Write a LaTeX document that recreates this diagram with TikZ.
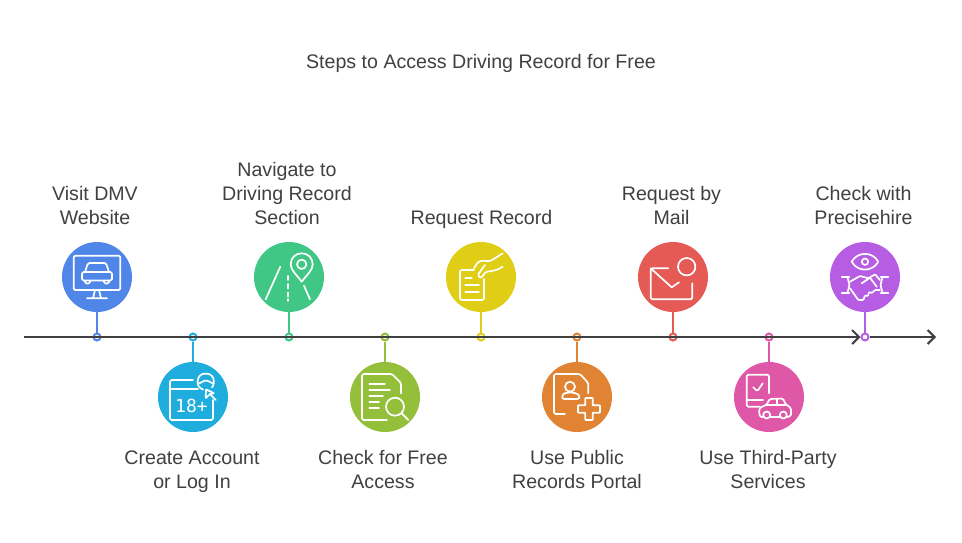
\documentclass[tikz,border=0pt]{standalone}
\usepackage{fontspec}
\setmainfont{Liberation Sans}
\newfontfamily\agefont{DejaVu Sans Mono}
\usetikzlibrary{arrows.meta}

\definecolor{inkgray}{RGB}{64, 64, 64}
\definecolor{stepblue}{RGB}{79, 134, 232}
\definecolor{stepcyan}{RGB}{31, 173, 221}
\definecolor{stepgreen}{RGB}{64, 199, 133}
\definecolor{steplime}{RGB}{147, 191, 58}
\definecolor{stepyellow}{RGB}{224, 205, 21}
\definecolor{steporange}{RGB}{224, 132, 51}
\definecolor{stepred}{RGB}{229, 90, 85}
\definecolor{steppink}{RGB}{223, 87, 167}
\definecolor{steppurple}{RGB}{183, 93, 227}

\begin{document}
\begin{tikzpicture}[x=1pt, y=-1pt, >={Straight Barb[length=7pt, width=14pt]},
        disc/.style={circle, fill=#1, inner sep=0pt, minimum size=70pt},
        ring/.style={circle, draw=#1, line width=2pt, inner sep=0pt, minimum size=7pt},
        stem/.style={draw=#1, line width=2.2pt},
        axis/.style={draw=inkgray, line width=2.1pt},
        label/.style={align=center, text=inkgray, text depth=0pt, font=\fontsize{19.6}{24}\selectfont},
        icon/.style={draw=white, line width=1.7pt, line cap=round, line join=round, rounded corners=1.5pt}]

    \useasboundingbox (0,0) rectangle (962,542);

    \node[label] (title) at (481,61) {Steps to Access Driving Record for Free};

    % --- kola z ikonami ---
    \node[disc=stepblue]   (visit)    at (97,277)  {};
    \node[disc=stepcyan]   (account)  at (193,397) {};
    \node[disc=stepgreen]  (navigate) at (289,277) {};
    \node[disc=steplime]   (free)     at (385,397) {};
    \node[disc=stepyellow] (request)  at (481,277) {};
    \node[disc=steporange] (portal)   at (577,397) {};
    \node[disc=stepred]    (mail)     at (673,277) {};
    \node[disc=steppink]   (third)    at (769,397) {};
    \node[disc=steppurple] (check)    at (865,277) {};

    % --- punkty na osi ---
    \node[ring=stepblue]   (dvisit)    at (97,337)  {};
    \node[ring=stepcyan]   (daccount)  at (193,337) {};
    \node[ring=stepgreen]  (dnavigate) at (289,337) {};
    \node[ring=steplime]   (dfree)     at (385,337) {};
    \node[ring=stepyellow] (drequest)  at (481,337) {};
    \node[ring=steporange] (dportal)   at (577,337) {};
    \node[ring=stepred]    (dmail)     at (673,337) {};
    \node[ring=steppink]   (dthird)    at (769,337) {};
    \node[ring=steppurple] (dcheck)    at (865,337) {};

    % --- os czasu ---
    \coordinate (axisstart) at (24,337);
    \coordinate (axisend)   at (936,337);
    \draw[axis, ->] (axisstart) -- (dcheck.west);
    \draw[axis, ->] (dcheck.east) -- (axisend);

    % --- trzonki ---
    \draw[stem=stepblue]   (visit)    -- (dvisit);
    \draw[stem=stepcyan]   (account)  -- (daccount);
    \draw[stem=stepgreen]  (navigate) -- (dnavigate);
    \draw[stem=steplime]   (free)     -- (dfree);
    \draw[stem=stepyellow] (request)  -- (drequest);
    \draw[stem=steporange] (portal)   -- (dportal);
    \draw[stem=stepred]    (mail)     -- (dmail);
    \draw[stem=steppink]   (third)    -- (dthird);
    \draw[stem=steppurple] (check)    -- (dcheck);

    % --- opisy ---
    \node[label] (tvisit)    at (95,205)    {Visit DMV\\Website};
    \node[label] (taccount)  at (192,470)   {Create Account\\or Log In};
    \node[label] (tnavigate) at (287,193)   {Navigate to\\Driving Record\\Section};
    \node[label] (tfree)     at (383,469)   {Check for Free\\Access};
    \node[label] (trequest)  at (481.5,217) {Request Record};
    \node[label] (tportal)   at (577,469)   {Use Public\\Records Portal};
    \node[label] (tmail)     at (671.5,205) {Request by\\Mail};
    \node[label] (tthird)    at (768,469)   {Use Third-Party\\Services};
    \node[label] (tcheck)    at (863.5,205) {Check with\\Precisehire};

    % --- monitor z autem ---
    \begin{scope}[shift={(visit)}]
        \draw[icon] (-23.3,-21.3) rectangle (23.3,13);
        \draw[icon] (-2,13) -- (-4,21.3) (2,13) -- (4,21.3) (-10,21.3) -- (10,21.3);
        \draw[icon] (-12,-5) -- (-9,-14) -- (9,-14) -- (12,-5);
        \draw[icon] (-15,-5) rectangle (15,3.5);
        \draw[icon] (-12,3.5) -- (-12,6.5) -- (-7,6.5) -- (-7,3.5) (12,3.5) -- (12,6.5) -- (7,6.5) -- (7,3.5);
    \end{scope}

    % --- kalendarz 18+ i kursor ---
    \begin{scope}[shift={(account)}]
        \draw[icon] (0,-17) -- (-23,-17) -- (-23,23) -- (20,23) -- (20,3);
        \draw[icon] (-23,-8) -- (5,-8);
        \node[text=white, font=\agefont\fontsize{18}{18}\selectfont, inner sep=0pt] (age) at (-1.5,9) {18+};
        \draw[icon] (10,-7.5) .. controls (6,-9) and (4.5,-12) .. (4.7,-15.3)
            .. controls (5,-20) and (8,-23.3) .. (12.7,-23.3)
            .. controls (17.5,-23.3) and (20.7,-20) .. (20.7,-15.3)
            .. controls (20.7,-13) and (20.2,-11) .. (19,-9.5);
        \draw[icon] (6,-13.5) -- (13,-17) -- (20,-13.5);
        \draw[icon, rounded corners=0.5pt] (13,-7.7) -- (21,-3.7) -- (17,-3) -- (12.7,1.3) -- cycle;
        \draw[icon] (17,-3) -- (22.7,3);
    \end{scope}

    % --- droga i pinezka ---
    \begin{scope}[shift={(navigate)}]
        \draw[icon] (-8.7,-10.3) -- (-23.3,22.3);
        \draw[icon] (15,8.7) -- (21,22.3);
        \draw[icon] (-1,-1) -- (-1,3) (-1,7) -- (-1,11.5) (-1,15.5) -- (-1,19.5) (-1,22) -- (-1,24);
        \draw[icon, rounded corners=0pt] (12.7,4.7) .. controls (8,-2) and (1.7,-6.5) .. (1.7,-12.7)
            .. controls (1.7,-19) and (6.5,-23.7) .. (12.7,-23.7)
            .. controls (19,-23.7) and (23.7,-19) .. (23.7,-12.7)
            .. controls (23.7,-6.5) and (17.5,-2) .. cycle;
        \draw[icon] (12.7,-12.7) circle[radius=4.7];
    \end{scope}

    % --- dokument z lupa ---
    \begin{scope}[shift={(free)}]
        \draw[icon] (2,23) -- (-23,23) -- (-23,-23) -- (7,-23) -- (16,-14) -- (16,-3.5);
        \draw[icon] (-15.7,-13) -- (0,-13) (-15.7,-7) -- (5,-7) (-15.7,-1.3) -- (-2,-1.3)
                    (-15.7,5) -- (-6,5) (-15.7,11) -- (-6,11);
        \draw[icon] (10,9.7) circle[radius=9];
        \draw[icon] (16.7,16.3) -- (23.3,23);
    \end{scope}

    % --- dokument w dloni ---
    \begin{scope}[shift={(request)}]
        \draw[icon] (-7,-7) -- (-21,-7) -- (-21,23) -- (3,23) -- (3,2);
        \draw[icon] (-15.7,0.7) -- (-9.3,0.7) (-15.7,7.7) -- (-2,7.7) (-15.7,14.7) -- (-2,14.7);
        \draw[icon] (-7,-8.7) -- (-2.7,-15.3) .. controls (3,-17) and (8,-15) .. (12.3,-17.7) -- (21.7,-23.7);
        \draw[icon] (21.7,-10.3) .. controls (17,-7) and (12,-6) .. (5,-5.3) -- (-0.3,1.3) -- (-3.3,-2) -- (4,-12);
    \end{scope}

    % --- dokument z osoba i krzyzem ---
    \begin{scope}[shift={(portal)}]
        \draw[icon] (-12,17) -- (-23,17) -- (-23,-23) -- (3,-23) -- (11.3,-14) -- (11.3,-3.7);
        \draw[icon] (-7,-10.3) circle[radius=5];
        \draw[icon] (-14.7,2) -- (-14.7,-0.5) .. controls (-14,-3.5) and (-11,-4) .. (-9,-4.5)
            -- (-5,-4.5) .. controls (-2,-4) and (1.5,-3) .. (2.3,-0.5) -- (2.3,2) -- cycle;
        \draw[icon, rounded corners=0.5pt] (8.3,1) -- (15.7,1) -- (15.7,8.3) -- (23,8.3) -- (23,15.7) -- (15.7,15.7)
            -- (15.7,23) -- (8.3,23) -- (8.3,15.7) -- (1,15.7) -- (1,8.3) -- (8.3,8.3) -- cycle;
    \end{scope}

    % --- koperta ---
    \begin{scope}[shift={(mail)}]
        \draw[icon] (-4.7,-8.7) -- (-22.3,-8.7) -- (-22.3,22.3) -- (19.3,22.3) -- (19.3,6.3);
        \draw[icon, rounded corners=0.5pt] (-22.3,-8.7) -- (-1.3,10.3) -- (6,5.3);
        \draw[icon] (13.7,-10.3) circle[radius=8.7];
    \end{scope}

    % --- telefon i auto ---
    \begin{scope}[shift={(third)}]
        \draw[icon] (0,-3.7) -- (0,-22.3) -- (-22.3,-22.3) -- (-22.3,9.7) -- (-9,9.7);
        \draw[icon] (-22.3,3) -- (-6,3);
        \draw[icon] (-15.7,-9.7) -- (-11.7,-5.7) -- (-6.3,-13.7);
        \draw[icon] (-6,20) -- (-9,20) -- (-10,14) .. controls (-9,10) and (-4,8.5) .. (-2.5,8)
            -- (0.5,2) -- (14,1.5) -- (17,8) .. controls (20,9) and (22,11) .. (22,14) -- (22,19) -- (18,20);
        \draw[icon] (11,20) -- (1.5,20);
        \draw[icon] (-2.5,8) -- (17,8) (7.7,2) -- (7.7,8);
        \draw[icon] (-2.3,18) circle[radius=3.5];
        \draw[icon] (14.3,18) circle[radius=3.5];
    \end{scope}

    % --- oko i uscisk dloni ---
    \begin{scope}[shift={(check)}, icon/.append style={rounded corners=0.8pt}]
        \draw[icon] (-13.3,-15.3) .. controls (-7,-25.5) and (7,-25.5) .. (13.3,-15.3)
            .. controls (7,-5) and (-7,-5) .. cycle;
        \draw[icon] (0,-15.3) circle[radius=3.2];
        \draw[icon] (-23.3,0.3) -- (-15.7,0.3) (-23.3,15.7) -- (-15.7,15.7);
        \draw[icon] (23.3,0.3) -- (15.7,0.3) (23.3,15.7) -- (15.7,15.7);
        \draw[icon] (-17.5,0.3) -- (-15.5,8) -- (-17.5,15.7);
        \draw[icon] (17.5,0.3) -- (15.5,8) -- (17.5,15.7);
        \draw[icon] (-15,4.7) -- (-5,-1) -- (3.3,1.3) -- (10,-2.7) -- (15,3);
        \draw[icon] (15,13) -- (10,13) -- (7,16) -- (4,15) -- (3,19) -- (0,18.5) -- (-1.7,23) -- (-6.7,23) -- (-15,11.3);
        \draw[icon] (-3.3,6.3) -- (5,0.7) -- (11.7,9.7);
    \end{scope}

\end{tikzpicture}
\end{document}
